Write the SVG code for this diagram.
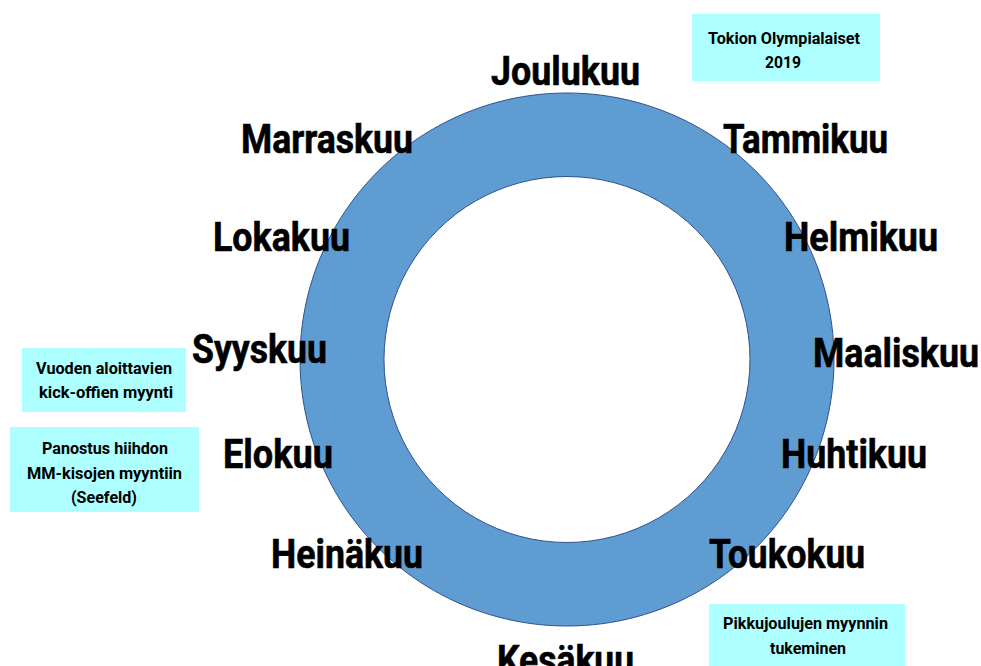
<svg xmlns="http://www.w3.org/2000/svg" width="981" height="666" viewBox="0 0 981 666">
<style>
.m{font-family:"Roboto","Liberation Sans",sans-serif;font-weight:bold;font-size:40px;fill:#000;stroke:#000;stroke-width:0.6;}
.b{fill:#AEFFFF;}
.t{font-family:"Roboto","Liberation Sans",sans-serif;font-weight:bold;font-size:16px;fill:#000;text-anchor:middle;}
</style>
<rect width="981" height="666" fill="#fff"/>
<g id="ring">
<path d="M567,93 a267,266.5 0 1,0 0.01,0 Z M567,176.5 a183,183 0 1,1 -0.01,0 Z" fill="#5F9CD2" fill-rule="evenodd" stroke="#2F528F" stroke-width="1"/>
</g>
<g id="months">
<text id="joulukuu" class="m" x="491" y="85" font-size="42" textLength="149" lengthAdjust="spacingAndGlyphs">Joulukuu</text>
<text id="marraskuu" class="m" x="241" y="153" textLength="172" lengthAdjust="spacingAndGlyphs">Marraskuu</text>
<text id="tammikuu" class="m" x="723" y="153" textLength="165" lengthAdjust="spacingAndGlyphs">Tammikuu</text>
<text id="lokakuu" class="m" x="213" y="251" textLength="137" lengthAdjust="spacingAndGlyphs">Lokakuu</text>
<text id="helmikuu" class="m" x="784" y="251" textLength="154" lengthAdjust="spacingAndGlyphs">Helmikuu</text>
<text id="syyskuu" class="m" x="192" y="363" textLength="135" lengthAdjust="spacingAndGlyphs">Syyskuu</text>
<text id="maaliskuu" class="m" x="813" y="367" textLength="166" lengthAdjust="spacingAndGlyphs">Maaliskuu</text>
<text id="elokuu" class="m" x="223" y="468" textLength="110" lengthAdjust="spacingAndGlyphs">Elokuu</text>
<text id="huhtikuu" class="m" x="781" y="468" textLength="146" lengthAdjust="spacingAndGlyphs">Huhtikuu</text>
<text id="heinakuu" class="m" x="271" y="568" textLength="152" lengthAdjust="spacingAndGlyphs">Heinäkuu</text>
<text id="toukokuu" class="m" x="709" y="568" textLength="156" lengthAdjust="spacingAndGlyphs">Toukokuu</text>
<text id="kesakuu" class="m" x="497" y="674" textLength="137" lengthAdjust="spacingAndGlyphs">Kesäkuu</text>
</g>
<g id="tokion">
<rect class="b" x="692" y="14" width="188" height="67"/>
<text class="t" x="784" y="44" textLength="152" lengthAdjust="spacingAndGlyphs">Tokion Olympialaiset</text>
<text class="t" x="783" y="68" textLength="36" lengthAdjust="spacingAndGlyphs">2019</text>
</g>
<g id="vuoden">
<rect class="b" x="22" y="348" width="164" height="64"/>
<text class="t" x="104" y="374" textLength="136" lengthAdjust="spacingAndGlyphs">Vuoden aloittavien</text>
<text class="t" x="106" y="398" textLength="134" lengthAdjust="spacingAndGlyphs">kick-offien myynti</text>
</g>
<g id="panostus">
<rect class="b" x="10" y="427" width="189" height="85"/>
<text class="t" x="105" y="454" textLength="126" lengthAdjust="spacingAndGlyphs">Panostus hiihdon</text>
<text class="t" x="104.5" y="479" textLength="155" lengthAdjust="spacingAndGlyphs">MM-kisojen myyntiin</text>
<text class="t" x="104" y="503" textLength="66" lengthAdjust="spacingAndGlyphs">(Seefeld)</text>
</g>
<g id="pikkujoulut">
<rect class="b" x="709" y="604" width="196" height="62"/>
<text class="t" x="805.5" y="629" textLength="165" lengthAdjust="spacingAndGlyphs">Pikkujoulujen myynnin</text>
<text class="t" x="808" y="654" textLength="76" lengthAdjust="spacingAndGlyphs">tukeminen</text>
</g>
<g id="connectors"></g>
</svg>
